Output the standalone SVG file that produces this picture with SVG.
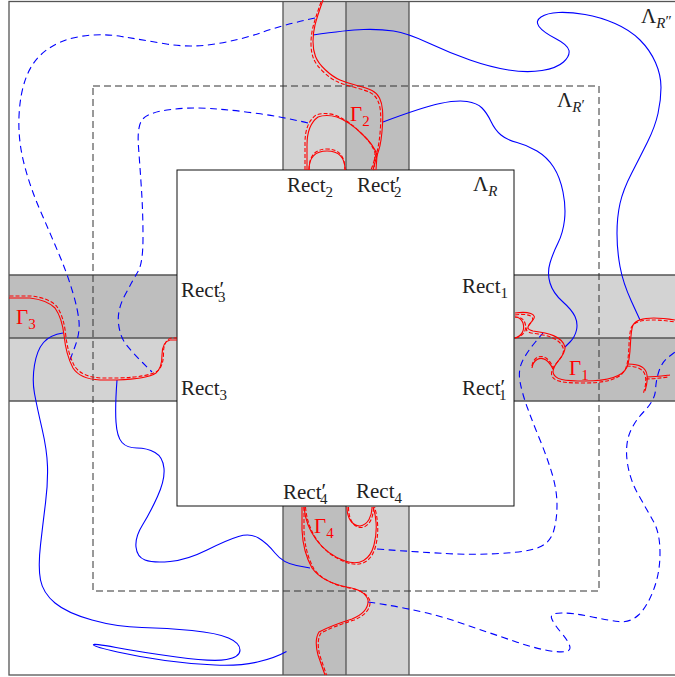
<svg xmlns="http://www.w3.org/2000/svg" width="675" height="677" viewBox="0 0 675 677">
<style>
.lt{fill:#d3d3d3}
.dk{fill:#bebebe}
.sb{fill:none;stroke:#555;stroke-width:1.3}
.bx{fill:none;stroke:#111;stroke-width:1}
.dbox{fill:none;stroke:#333;stroke-width:1;stroke-dasharray:7 4}
.bs{fill:none;stroke:#0000ff;stroke-width:1.1}
.bd{fill:none;stroke:#0000ff;stroke-width:1.1;stroke-dasharray:7 4.5}
.rs{fill:none;stroke:#ff0000;stroke-width:1.1}
.rd{fill:none;stroke:#ff0000;stroke-width:1.1;stroke-dasharray:4 2}
text{font-family:"Liberation Serif","DejaVu Serif",serif;font-size:21px;fill:#222}
text.g{fill:#ff0000}
.sub{font-size:15px}
.pr{font-size:21px}
.sm{font-size:15px}
</style>
<rect width="675" height="677" fill="#fff"/>
<g id="strips">
<rect class="lt" x="283" y="1.5" width="63" height="168.5"/>
<rect class="dk" x="346" y="1.5" width="63" height="168.5"/>
<rect class="dk" x="9" y="275" width="168" height="63"/>
<rect class="lt" x="9" y="338" width="168" height="63"/>
<rect class="lt" x="514" y="275" width="170" height="63"/>
<rect class="dk" x="514" y="338" width="170" height="63"/>
<rect class="dk" x="283" y="506" width="63" height="169"/>
<rect class="lt" x="346" y="506" width="63" height="169"/>
<path class="sb" d="M283,1.5V170M346,1.5V170M409,1.5V170M9,275H177M9,338H177M9,401H177M514,275H684M514,338H684M514,401H684M283,506V675M346,506V675M409,506V675"/>
</g>
<g id="lambda-r2">
<rect class="sb" x="9" y="1.5" width="700" height="673.5"/>
</g>
<g id="lambda-r1">
<rect class="dbox" x="93" y="86" width="506" height="505"/>
</g>
<g id="lambda-r">
<rect class="bx" x="177" y="170" width="337" height="336" fill="#fff"/>
</g>
<g id="connectors">
<path class="bs" d="M313,35 Q347,30 363.5,29.5 Q380,29 393.5,31 Q407,33 428.5,43 Q450,53 470,60 Q490,67 508.5,70 Q527,73 542,70.5 Q557,68 563.5,62 Q570,56 569,50.5 Q568,45 555.5,38.5 Q543,32 539,26.5 Q535,21 541,17 Q547,13 558.5,12.5 Q570,12 585,14.5 Q600,17 615,23.5 Q630,30 640,40 Q650,50 655.5,62.5 Q661,75 661,87.5 Q661,100 658,113.5 Q655,127 647.5,142 Q640,157 631.5,173.5 Q623,190 620,203.5 Q617,217 617,233.5 Q617,250 620,266.5 Q623,283 631.5,301.5 L640,320"/>
<path class="bs" d="M383,122 Q423,107 440,103.5 Q457,100 467,101.5 Q477,103 482,108 Q487,113 491,121.5 Q495,130 501,135 Q507,140 517,142.5 Q527,145 537,151 Q547,157 553.5,167 Q560,177 563,192 Q566,207 564.5,220 Q563,233 558,243 Q553,253 550,263 Q547,273 550,283 Q553,293 562.5,301.5 Q572,310 575,316.5 Q578,323 576.5,330 Q575,337 570,342 L565,347"/>
<path class="bs" d="M63,333 Q50,335 43.5,342.5 Q37,350 34.5,365 Q32,380 34.5,393.5 Q37,407 42,428.5 Q47,450 47.5,466.5 Q48,483 45.5,503 Q43,523 40.5,545 Q38,567 40.5,580 Q43,593 55,603 Q67,613 92,620 Q117,627 142,627.5 Q167,628 192,630.5 Q217,633 228.5,638 Q240,643 240,650 Q240,657 226.5,659.5 Q213,662 176.5,657 Q140,652 116,647.5 Q92,643 93.5,645 Q95,647 117.5,652 Q140,657 165,660.5 Q190,664 215,665 Q240,666 257.5,662 Q275,658 286.5,651.5 Q298,645 L318,633"/>
<path class="bs" d="M117,380 Q115,407 116,422 Q117,437 122,442.5 Q127,448 137,448 Q147,448 155,452.5 Q163,457 164,468.5 Q165,480 157.5,496.5 Q150,513 142.5,525 Q135,537 136,547 Q137,557 145,560 Q153,563 170,561.5 Q187,560 207,550 Q227,540 238.5,536.5 Q250,533 258.5,538 Q267,543 275,553 Q283,563 296.5,565.5 L310,568"/>
<path class="bd" d="M315,18 Q283,25 261.5,32.5 Q240,40 215,44 Q190,48 166.5,44 Q143,40 121.5,36.5 Q100,33 80,36.5 Q60,40 46.5,50 Q33,60 26.5,76.5 Q20,93 19,116.5 Q18,140 24,163.5 Q30,187 40,210 Q50,233 58.5,253 Q67,273 72.5,291.5 Q78,310 79,321.5 Q80,333 75,346.5 L70,360"/>
<path class="bd" d="M308,123 Q283,117 258,113.5 Q233,110 210,108.5 Q187,107 167,110 Q147,113 142,120 Q137,127 138.5,147 Q140,167 141.5,190 Q143,213 143,238 Q143,263 138,271.5 Q133,280 125,295 Q117,310 118.5,323.5 Q120,337 126.5,345 Q133,353 142.5,362.5 L152,372"/>
<path class="bd" d="M377,549 Q417,552 445,553.5 Q473,555 500,553.5 Q527,552 538.5,547.5 Q550,543 553.5,531.5 Q557,520 557,505 Q557,490 552,473.5 Q547,457 540,440 Q533,423 527.5,408 Q522,393 520,381.5 Q518,370 522.5,361 Q527,352 535,342.5 L543,333"/>
<path class="bd" d="M368,602 Q423,610 456.5,621.5 Q490,633 515,641.5 Q540,650 555,651.5 Q570,653 570,648 Q570,643 561.5,633 Q553,623 551.5,618 Q550,613 561.5,613 Q573,613 590,616.5 Q607,620 618.5,621.5 Q630,623 638.5,615 Q647,607 653.5,590 Q660,573 660,553 Q660,533 653.5,521.5 Q647,510 638.5,495 Q630,480 627.5,463.5 Q625,447 629,435 Q633,423 644,411.5 Q655,400 655.5,390 Q656,380 659,371 Q662,362 668.5,357 L675,352"/>
</g>
<g id="gamma2">
<path class="rs" d="M323,0 Q317,17 315,25 Q313,33 313,41.5 Q313,50 315.5,56.5 Q318,63 325.5,70 Q333,77 340,80 Q347,83 357,85.5 Q367,88 372,90.5 Q377,93 379.5,98 Q382,103 382.5,110 Q383,117 382.5,125 Q382,133 381,140 Q380,147 378.5,151 Q377,155 375,162.5 L373,170"/>
<path class="rd" transform="translate(-2,2)" d="M323,0 Q317,17 315,25 Q313,33 313,41.5 Q313,50 315.5,56.5 Q318,63 325.5,70 Q333,77 340,80 Q347,83 357,85.5 Q367,88 372,90.5 Q377,93 379.5,98 Q382,103 382.5,110 Q383,117 382.5,125 Q382,133 381,140 Q380,147 378.5,151 Q377,155 375,162.5 L373,168"/>
<path class="rs" d="M307,170 L307,145 Q307,125 318,117 Q326,114 337,117 Q350,122 362,134 Q374,145 377,155 L376,170"/>
<path class="rd" transform="translate(-2,-2)" d="M307,172 L307,145 Q307,125 318,117 Q326,114 337,117 Q350,122 362,134 Q374,145 377,155 L376,172"/>
<path class="rs" d="M309,170 C309,158 315,151 327,151 C339,151 345,158 345,170"/>
<path class="rd" transform="translate(0,-2)" d="M309,172 C309,158 315,151 327,151 C339,151 345,158 345,172"/>
</g>
<g id="gamma3">
<path class="rs" d="M9,298 L30,298 Q47,300 55,308 Q62,318 64,335 Q66,355 73,368 Q80,379 100,380 L117,380 Q147,379 156,373 Q162,368 162,355 Q162,342 170,340 L177,340"/>
<path class="rd" transform="translate(1.5,-2)" d="M8,298 L30,298 Q47,300 55,308 Q62,318 64,335 Q66,355 73,368 Q80,379 100,380 L117,380 Q147,379 156,373 Q162,368 162,355 Q162,342 170,340 L175.5,340"/>
</g>
<g id="gamma1">
<path class="rs" d="M515,313 C528,311 538,314 533,320 C529,325 524,329 533,331 C548,333 562,336 565,347 C566,357 553,362 553,372 C554,380 565,381 585,381 C605,381 622,378 627,367 C632,355 629,335 633,325 C637,318 650,316 675,320"/>
<path class="rd" transform="translate(-1.5,2)" d="M516.5,313 C528,311 538,314 533,320 C529,325 524,329 533,331 C548,333 562,336 565,347 C566,357 553,362 553,372 C554,380 565,381 585,381 C605,381 622,378 627,367 C632,355 629,335 633,325 C637,318 650,316 677,320"/>
<path class="rs" d="M515,338 C522,336 525,330 523,323 C521,318 518,317 515,317"/>
<path class="rd" transform="translate(2,0)" d="M513,338 C522,336 525,330 523,323 C521,318 518,317 513,317"/>
<path class="rs" d="M532,368 C533,360 540,356 546,360 C549,362 551,365 553,369"/>
<path class="rd" transform="translate(0,-2)" d="M532,368 C533,360 540,356 546,360 C549,362 551,365 553,369"/>
<path class="rs" d="M628,364 C638,364 646,367 647,375 C648,382 646,387 645,391 M647,377 C655,377 662,376 670,375"/>
<path class="rd" transform="translate(-1.5,2)" d="M628,364 C638,364 646,367 647,375 C648,382 646,387 645,391 M647,377 C655,377 662,376 670,375"/>
</g>
<g id="gamma4">
<path class="rs" d="M302,507 L302,530 Q303,552 312,568 Q322,582 347,587 Q365,590 368,600 Q369,612 352,619 Q330,626 319,632 Q314,640 318,655 L325,675"/>
<path class="rd" transform="translate(2,1)" d="M302,506 L302,530 Q303,552 312,568 Q322,582 347,587 Q365,590 368,600 Q369,612 352,619 Q330,626 319,632 Q314,640 318,655 L324.5,674"/>
<path class="rs" d="M304,507 C306,530 320,552 345,561 C360,566 370,560 374,545 C378,530 376,515 373,507"/>
<path class="rd" transform="translate(1.5,1.5)" d="M304,505.5 C306,530 320,552 345,561 C360,566 370,560 374,545 C378,530 376,515 373,505.5"/>
<path class="rs" d="M347,507 C347,518 352,526 360,526 C368,525 372,516 372,507"/>
<path class="rd" transform="translate(1.5,1.5)" d="M347,505.5 C347,518 352,526 360,526 C368,525 372,516 372,505.5"/>
</g>
<g id="labels">
<text x="287" y="192">Rect<tspan class="sub" dy="5">2</tspan></text>
<text x="357" y="192">Rect<tspan class="pr" dy="-1">′</tspan><tspan class="sub" dx="-6" dy="6">2</tspan></text>
<text x="473" y="191">Λ<tspan class="sub" font-style="italic" dy="5">R</tspan></text>
<text x="557" y="107">Λ<tspan class="sub" font-style="italic" dy="5">R</tspan><tspan class="sm" dy="-2">′</tspan></text>
<text x="641" y="23">Λ<tspan class="sub" font-style="italic" dy="5">R</tspan><tspan class="sm" dy="-2">″</tspan></text>
<text x="462" y="293">Rect<tspan class="sub" dy="5">1</tspan></text>
<text x="462" y="395">Rect<tspan class="pr" dy="-1">′</tspan><tspan class="sub" dx="-6" dy="6">1</tspan></text>
<text x="181" y="297">Rect<tspan class="pr" dy="-1">′</tspan><tspan class="sub" dx="-6" dy="6">3</tspan></text>
<text x="181" y="395">Rect<tspan class="sub" dy="5">3</tspan></text>
<text x="283" y="499">Rect<tspan class="pr" dy="-1">′</tspan><tspan class="sub" dx="-6" dy="6">4</tspan></text>
<text x="356" y="498">Rect<tspan class="sub" dy="5">4</tspan></text>
<text class="g" x="350" y="121">Γ<tspan class="sub" dy="5">2</tspan></text>
<text class="g" x="569" y="375">Γ<tspan class="sub" dy="5">1</tspan></text>
<text class="g" x="16" y="324">Γ<tspan class="sub" dy="5">3</tspan></text>
<text class="g" x="314" y="533">Γ<tspan class="sub" dy="5">4</tspan></text>
</g>
</svg>
